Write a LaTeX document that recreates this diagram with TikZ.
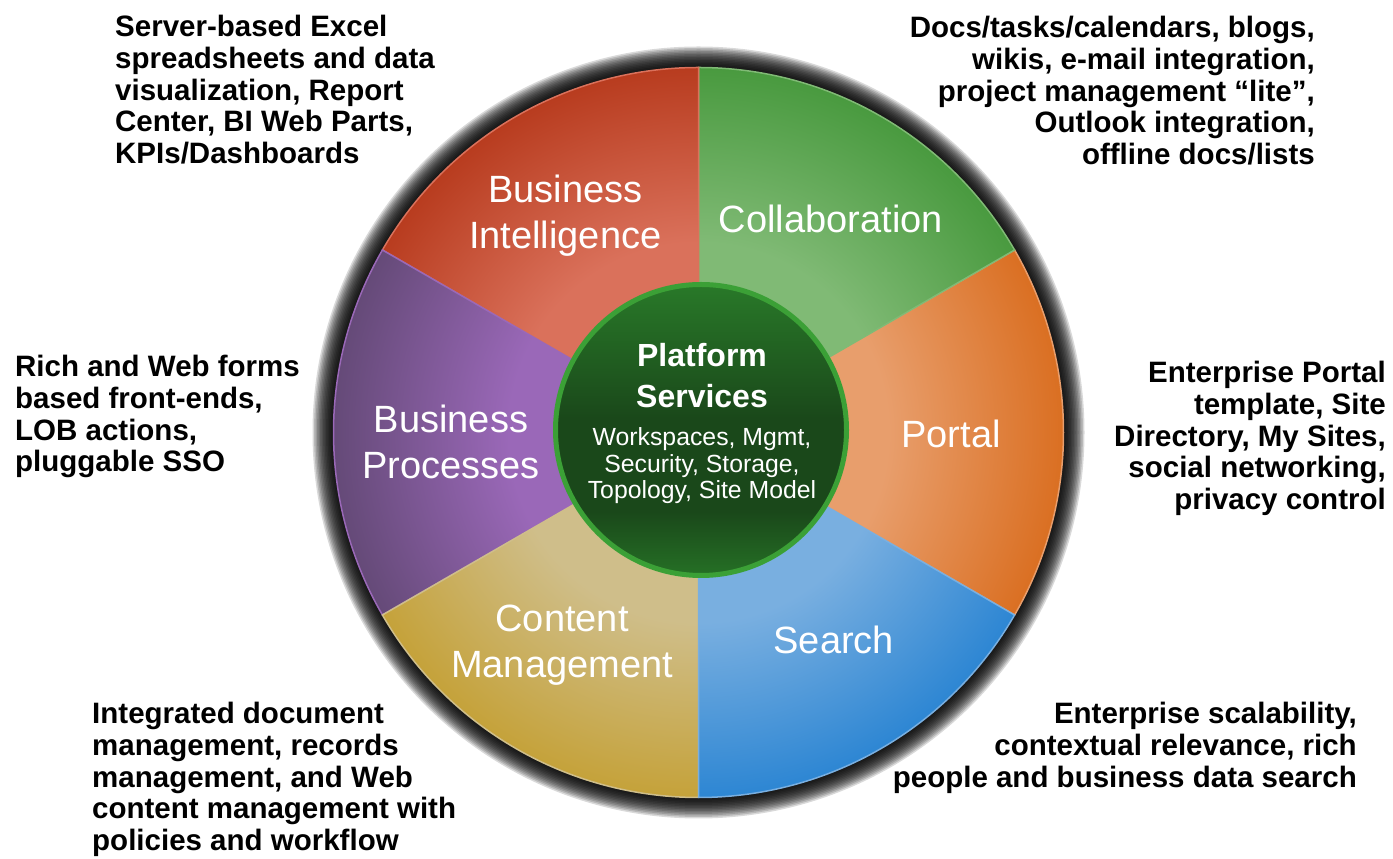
\documentclass[tikz,border=0pt]{standalone}
\usepackage{fontspec}
\setmainfont{Liberation Sans}
\usepackage{tikz}
\usetikzlibrary{positioning,calc}
\definecolor{inportal}{HTML}{E89E6C} \definecolor{outportal}{HTML}{DA6F22}
\definecolor{incollab}{HTML}{80BA75} \definecolor{outcollab}{HTML}{499A3F}
\definecolor{inbi}{HTML}{DA715B} \definecolor{outbi}{HTML}{B83C1F}
\definecolor{inbp}{HTML}{9A68B8} \definecolor{outbp}{HTML}{654A78}
\definecolor{incm}{HTML}{CFBE8A} \definecolor{outcm}{HTML}{C5A23A}
\definecolor{insearch}{HTML}{79AFE0} \definecolor{outsearch}{HTML}{2D86D3}
\definecolor{coreedge}{HTML}{3BA036}
\definecolor{coretop}{HTML}{2F8E2F}
\definecolor{coremid}{HTML}{1A481A}
\definecolor{corebot}{HTML}{33A033}
\colorlet{secin}{white}
\colorlet{secout}{black}
\pgfdeclareradialshading[secin,secout]{sector}{\pgfpoint{0bp}{0bp}}{color(0bp)=(secin); color(13bp)=(secin); color(25bp)=(secout); color(50bp)=(secout)}
\pgfdeclareverticalshading{coreshade}{100bp}{color(0bp)=(corebot); color(12bp)=(corebot); color(36bp)=(coremid); color(52bp)=(coremid); color(85bp)=(coretop); color(100bp)=(coretop)}
\tikzstyle{note} = [inner sep=0pt, font=\bfseries\fontsize{29.5}{31.8}\selectfont]
\tikzstyle{seclabel} = [text=white, align=center, inner sep=0pt, font=\fontsize{38}{46}\selectfont]
\tikzstyle{core} = [circle, minimum size=291pt, inner sep=0pt, draw=coreedge, line width=5pt, shading=coreshade]
\tikzstyle{coretitle} = [text=white, align=center, inner sep=0pt, font=\bfseries\fontsize{32}{41}\selectfont]
\tikzstyle{coretext} = [text=white, align=center, inner sep=0pt, font=\fontsize{24.8}{26.5}\selectfont]

\begin{document}
\begin{tikzpicture}[x=1pt, y=1pt]
        \useasboundingbox (0,0) rectangle (1393,859);
        \fill[white] (0,0) rectangle (1393,859);
        \coordinate (C) at (698.5,426.5);
        % soft shadow round the wheel
        \foreach \k in {1,...,14}
                \fill[black, opacity=0.15] (C) circle[radius=365+1.5*\k];
        \foreach \ang/\sec/\la/\lr/\txt in {-30/portal/-0.3/252.5/Portal, 30/collab/58.2/251.3/Collaboration, 90/bi/121.6/254.4/{Business\\Intelligence}, 150/bp/182.2/247.7/{Business\\Processes}, 210/cm/237.3/252.6/{Content\\Management}, 270/search/303.1/247.8/Search}{
                \colorlet{secin}{in\sec}\colorlet{secout}{out\sec}
                \begin{scope}
                        \clip (C) -- ++(\ang:365) arc[start angle=\ang, end angle=\ang+60, radius=365] -- cycle;
                        \shade[shading=sector] (C) circle[radius=365];
                \end{scope}
                \draw[in\sec, line width=1.5pt] (C) -- ++(\ang:365) arc[start angle=\ang, end angle=\ang+60, radius=365] -- cycle;
                \node (\sec) [seclabel] at ($(C)+(\la:\lr)$) {\txt};
        }
        \node (core) [core] at (701,429) {};
        \node (platform) [coretitle] at (702,483) {Platform\\Services};
        \node (services) [coretext, below=19pt of platform] {Workspaces, Mgmt,\\Security, Storage,\\Topology, Site Model};
        \node (binote) [note, anchor=north west, align=left] at (115,844) {Server-based Excel\\spreadsheets and data\\visualization, Report\\Center, BI Web Parts,\\KPIs/Dashboards};
        \node (collabnote) [note, anchor=north east, align=right] at (1315,843) {Docs/tasks/calendars, blogs,\\wikis, e-mail integration,\\project management “lite”,\\Outlook integration,\\offline docs/lists};
        \node (bpnote) [note, anchor=north west, align=left] at (15,504) {Rich and Web forms\\based front-ends,\\LOB actions,\\pluggable SSO};
        \node (portalnote) [note, anchor=north east, align=right] at (1386,498) {Enterprise Portal\\template, Site\\Directory, My Sites,\\social networking,\\privacy control};
        \node (cmnote) [note, anchor=north west, align=left] at (92,157) {Integrated document\\management, records\\management, and Web\\content management with\\policies and workflow};
        \node (searchnote) [note, anchor=north east, align=right] at (1357,157) {Enterprise scalability,\\contextual relevance, rich\\people and business data search};
        % \draw[red, dashed] (C) circle[radius=148];
\end{tikzpicture}
\end{document}
